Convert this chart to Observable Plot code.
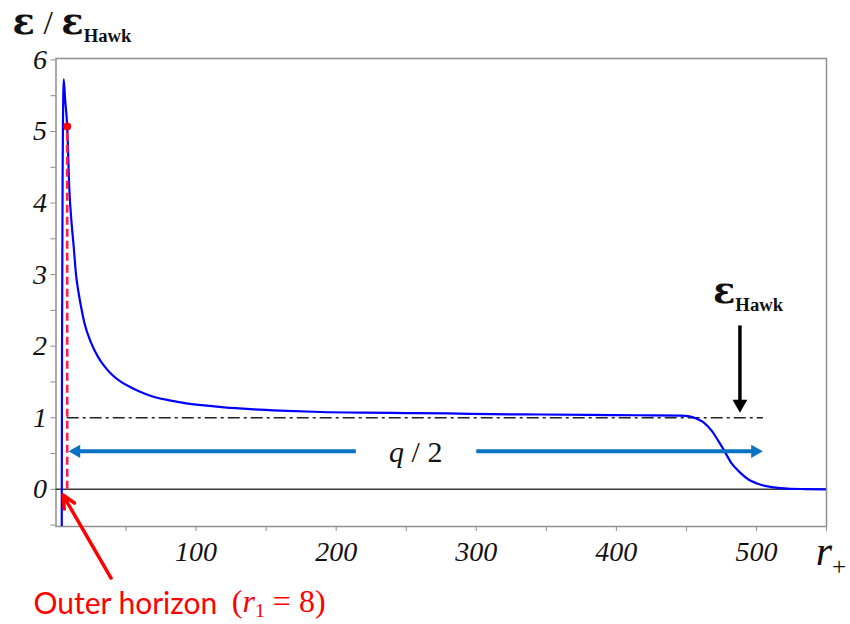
<!DOCTYPE html>
<html><head><meta charset="utf-8">
<script src="https://cdn.jsdelivr.net/npm/d3@7"></script>
<script src="https://cdn.jsdelivr.net/npm/@observablehq/plot@0.6"></script>
<style>body{margin:0;background:#fff}</style>
</head><body><div id="chart"></div>
<script>
// ---- data ----
const rValues = [4.1, 4.3, 4.8, 5.5, 6.5, 8, 9.5, 11, 12.6, 14.3, 16, 17.9, 20.2, 25, 30, 34.5, 40, 46.4, 55, 63, 72, 82, 92, 104, 120, 139, 160, 189, 220, 250, 280, 311, 345, 380, 415, 446, 452, 457, 462, 468, 473, 477, 482, 488, 494, 500, 508, 515, 522, 535, 549];
const eValues = [-0.52, 2.0, 4.6, 5.73, 5.45, 5.07, 4.2, 3.75, 3.4, 3.0, 2.76, 2.55, 2.33, 2.05, 1.85, 1.72, 1.6, 1.5, 1.41, 1.34, 1.28, 1.24, 1.205, 1.175, 1.145, 1.12, 1.10, 1.08, 1.07, 1.065, 1.06, 1.05, 1.045, 1.04, 1.035, 1.03, 1.02, 0.99, 0.94, 0.82, 0.67, 0.54, 0.37, 0.24, 0.14, 0.085, 0.04, 0.02, 0.01, 0.003, 0.0];
const xTicks = [50, 100, 150, 200, 250, 300, 350, 400, 450, 500, 550];
const yTicks = [-0.5, 0, 0.5, 1, 1.5, 2, 2.5, 3, 3.5, 4, 4.5, 5, 5.5, 6];
const horizon = [{r: 8, e: 5.07}];
const hawkLine = [{e: 1, from: 8, to: 505}];
const qArrowShafts = [{e: 0.53, from: 214, to: 15}, {e: 0.53, from: 300, to: 498}];
const qArrowHeadsLeft = [{r: 14.5, e: 0.53}];
const qArrowHeadsRight = [{r: 499, e: 0.53}];
const hawkArrowShaft = [{r: 488.2, from: 2.29, to: 1.22}];
const hawkArrowHead = [{r: 488.2, e: 1.19}];
const horizonArrow = [{r1: 39.3, e1: -1.24, r2: 5, e2: -0.08}];
const serifLabels = [
  {r: -31, e: 6.36, text: "#{ε} !{/} #{ε}_{Hawk|0.55|0.24}", size: 34, weight: "bold"},
  {r: 469, e: 2.6, text: "#{ε}_{Hawk|0.55|0.24}", size: 34, weight: "bold"},
  {r: 542.3, e: -1.06, text: "*r*_{+|0.6|0.24}", size: 42, weight: "normal"}
];
const qLabel = [{r: 256.8, e: 0.52, text: "*q* / 2"}];
const horizonText = [{r: -16.1, e: -1.74, text: "Outer horizon"}];
const horizonFormula = [{r: 125.5, e: -1.72, text: "(*r*_{1|0.62|0.14} = 8)"}];

const curve = rValues.map((r, i) => ({r, e: eValues[i]}));

const plot = Plot.plot({
  width: 850, height: 624,
  marginLeft: 55.5, marginRight: 24, marginTop: 58, marginBottom: 98,
  style: {fontFamily: "Liberation Serif", fontSize: "28px", fontStyle: "italic", color: "#111", background: "#fff"},
  x: {domain: [0, 550], ticks: xTicks, tickFormat: d => d % 100 === 0 ? String(d) : "", tickSize: 5, tickPadding: 10, label: null},
  y: {domain: [-0.52, 6.02], ticks: yTicks, tickFormat: d => Number.isInteger(d) ? String(d) : "", tickSize: 5, tickPadding: 4, label: null},
  marks: [
    Plot.frame({stroke: "#8f8f8f", strokeWidth: 1.5}),
    Plot.ruleY([0], {stroke: "#3a3a3a", strokeWidth: 1.5}),
    Plot.ruleY(hawkLine, {y: "e", x1: "from", x2: "to", stroke: "#222", strokeWidth: 1.3, strokeDasharray: "12,4,3,4"}),
    Plot.line(curve, {x: "r", y: "e", stroke: "#0000ff", strokeWidth: 2.2, curve: "monotone-x", clip: true}),
    Plot.ruleX(horizon, {x: "r", y1: 0, y2: "e", stroke: "#ff1f4f", strokeWidth: 2.6, strokeDasharray: "8,4"}),
    Plot.dot(horizon, {x: "r", y: "e", r: 4, fill: "#ff0000"}),
    Plot.link(qArrowShafts, {x1: "from", x2: "to", y1: "e", y2: "e", stroke: "#0a72c2", strokeWidth: 4}),
    Plot.dot(qArrowHeadsLeft, {x: "r", y: "e", symbol: "triangle", r: 5, rotate: -90, fill: "#0a72c2"}),
    Plot.dot(qArrowHeadsRight, {x: "r", y: "e", symbol: "triangle", r: 5, rotate: 90, fill: "#0a72c2"}),
    Plot.link(hawkArrowShaft, {x1: "r", x2: "r", y1: "from", y2: "to", stroke: "#000", strokeWidth: 3.5}),
    Plot.dot(hawkArrowHead, {x: "r", y: "e", symbol: "triangle", r: 5.5, rotate: 180, fill: "#000"}),
    Plot.arrow(horizonArrow, {x1: "r1", y1: "e1", x2: "r2", y2: "e2", stroke: "#ff0000", strokeWidth: 3.5, headLength: 6, headAngle: 50}),
    ...serifLabels.map(l => Plot.text([l], {x: "r", y: "e", text: "text", textAnchor: "start", lineAnchor: "bottom", fontSize: l.size, fontWeight: l.weight, fontStyle: "normal", fontFamily: "Liberation Serif", fill: "#111"})),
    Plot.text(qLabel, {x: "r", y: "e", text: "text", fontSize: 30, fontStyle: "normal", fontFamily: "Liberation Serif", fill: "#111"}),
    Plot.text(horizonText, {x: "r", y: "e", text: "text", textAnchor: "start", lineAnchor: "bottom", fontSize: 30, fontStyle: "normal", fontFamily: "Lato", fill: "#ff0000"}),
    Plot.text(horizonFormula, {x: "r", y: "e", text: "text", textAnchor: "start", lineAnchor: "bottom", fontSize: 32, fontStyle: "normal", fontFamily: "Liberation Serif", fill: "#ff0000"})
  ]
});
document.getElementById("chart").appendChild(plot);

// grey tick marks
d3.select(plot).selectAll('g[aria-label="x-axis tick"], g[aria-label="y-axis tick"]').attr("stroke", "#8a8a8a");

// simple markup -> tspans: *italic*, _{subscript|scale|shift}, !{normal weight}, #{alternate serif glyph}
d3.select(plot).selectAll("text").each(function() {
  const s = this.textContent;
  if (!/\*|_\{|!\{|#\{/.test(s)) return;
  const size = parseFloat(getComputedStyle(this).fontSize) || 28;
  const sel = d3.select(this);
  sel.text(null);
  const re = /\*([^*]+)\*|_\{([^}|]*)(?:\|([\d.]+))?(?:\|([\d.]+))?\}|!\{([^}]*)\}|#\{([^}]*)\}|([^*_!#]+)/g;
  let m, shift = 0;
  while ((m = re.exec(s))) {
    const t = sel.append("tspan");
    if (m[2] != null) {
      const k = m[3] ? +m[3] : 0.5;
      const d = size * (m[4] ? +m[4] : 0.24);
      t.text(m[2]).attr("font-size", size * k).attr("dy", d - shift);
      shift = d;
      continue;
    }
    if (shift) { t.attr("dy", -shift); shift = 0; }
    if (m[1] != null) t.text(m[1]).attr("font-style", "italic");
    else if (m[5] != null) t.text(m[5]).attr("font-weight", "normal");
    else if (m[6] != null) t.text(m[6]).attr("font-family", "DejaVu Serif").attr("font-size", size * 1.08);
    else t.text(m[7]);
  }
});
</script>
</body></html>
